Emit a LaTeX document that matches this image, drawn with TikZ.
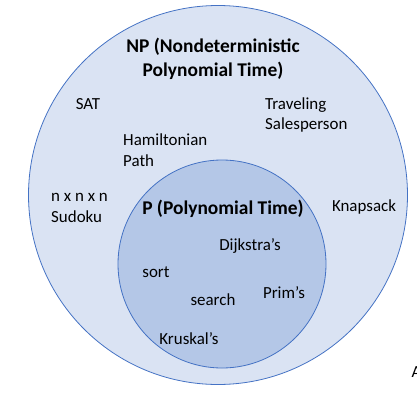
\documentclass[tikz,border=0pt]{standalone}
\usepackage{fontspec}
\setmainfont{Carlito}
\definecolor{npfill}{RGB}{218,227,243}
\definecolor{pfill}{RGB}{180,199,231}
\definecolor{edge}{RGB}{68,114,196}
\begin{document}
\begin{tikzpicture}[x=1bp,y=-1bp,
  setbox/.style={circle,draw=edge,line width=0.8bp,inner sep=0pt},
  lbl/.style={font=\fontsize{17}{20.5}\selectfont,inner sep=0pt,align=left},
  ttl/.style={font=\fontsize{19.5}{23.5}\selectfont\bfseries,inner sep=0pt,align=center}]
\useasboundingbox (0,0) rectangle (417,405);
\clip (0,0) rectangle (417,405);
\node[setbox,fill=npfill,minimum size=379bp] (np) at (218,195) {};
\node[setbox,fill=pfill,minimum size=208bp] (p) at (222,264) {};
\node[ttl] (nptitle) at (213,59) {NP (Nondeterministic\\Polynomial Time)};
\node[lbl] (sat) at (88,104) {SAT};
\node[lbl,anchor=west] (tsp) at (265,115) {Traveling\\Salesperson};
\node[lbl,anchor=west] (ham) at (123,150) {Hamiltonian\\Path};
\node[lbl,anchor=west] (sud) at (51,208) {n x n x n\\Sudoku};
\node[lbl] (knap) at (364,207) {Knapsack};
\node[ttl] (ptitle) at (223,209) {P (Polynomial Time)};
\node[lbl] (dij) at (250,246) {Dijkstra’s};
\node[lbl] (sort) at (156,272) {sort};
\node[lbl] (search) at (213,300) {search};
\node[lbl] (prim) at (284,293) {Prim’s};
\node[lbl] (krus) at (189,339) {Kruskal’s};
\node[lbl,anchor=west] (cut) at (411.5,372) {A};
\end{tikzpicture}
\end{document}
